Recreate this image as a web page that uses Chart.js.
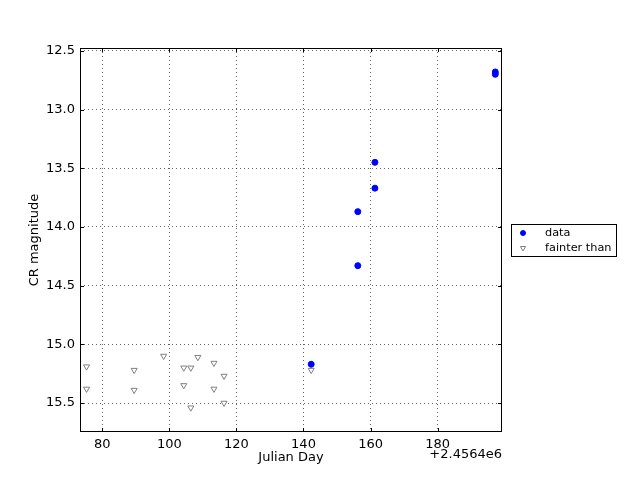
<!DOCTYPE html>
<html>
<head>
<meta charset="utf-8">
<script src="https://cdn.jsdelivr.net/npm/chart.js@4.4.0/dist/chart.umd.min.js"></script>
<style>
  html, body { margin: 0; padding: 0; background: #fff; }
</style>
</head>
<body>
<canvas id="myChart" width="640" height="480"></canvas>
<script>
// detections (Julian Day - 2456400, CR magnitude)
const dataDays = [142.3, 156.2, 156.2, 161.3, 161.3, 197.2, 197.2];
const dataMags = [15.17, 14.33, 13.87, 13.67, 13.45, 12.70, 12.68];

// upper limits ("fainter than")
const limitDays = [75.3, 75.3, 89.5, 89.5, 98.3, 104.3, 104.3, 106.4, 106.4, 108.5, 113.3, 113.3, 116.3, 116.3, 142.3];
const limitMags = [15.19, 15.38, 15.22, 15.39, 15.10, 15.20, 15.35, 15.20, 15.54, 15.11, 15.16, 15.38, 15.27, 15.50, 15.22];

const xTicks = [80, 100, 120, 140, 160, 180];
const yTicks = [12.5, 13.0, 13.5, 14.0, 14.5, 15.0, 15.5];

const toPoints = (xs, ys) => xs.map((x, i) => ({ x: x, y: ys[i] }));

const FONT = "'DejaVu Sans', sans-serif";

// matplotlib-like frame, inward ticks, offset text and legend box
const mplExtras = {
  id: "mplExtras",
  afterDraw(chart) {
    const { ctx, chartArea: a, scales } = chart;
    ctx.save();
    ctx.strokeStyle = "#000";
    ctx.lineWidth = 1;
    ctx.setLineDash([]);
    ctx.beginPath();
    xTicks.forEach((v) => {
      const px = Math.round(scales.x.getPixelForValue(v)) + 0.5;
      ctx.moveTo(px, a.bottom); ctx.lineTo(px, a.bottom - 4);
      ctx.moveTo(px, a.top); ctx.lineTo(px, a.top + 4);
    });
    yTicks.forEach((v) => {
      const py = Math.round(scales.y.getPixelForValue(v)) + 0.5;
      ctx.moveTo(a.left, py); ctx.lineTo(a.left + 4, py);
      ctx.moveTo(a.right, py); ctx.lineTo(a.right - 4, py);
    });
    ctx.stroke();
    ctx.strokeRect(a.left + 0.5, a.top + 0.5, a.right - a.left - 1, a.bottom - a.top - 1);

    // offset text
    ctx.fillStyle = "#000";
    ctx.font = "13px " + FONT;
    ctx.textAlign = "right";
    ctx.textBaseline = "middle";
    ctx.fillText("+2.4564e6", a.right, 455);

    // legend
    const lx = 511, ly = 224, lw = 105, lh = 32;
    ctx.fillStyle = "#fff";
    ctx.fillRect(lx, ly, lw, lh);
    ctx.strokeRect(lx + 0.5, ly + 0.5, lw, lh);
    ctx.font = "11.3px " + FONT;
    ctx.textAlign = "left";
    chart.data.datasets.forEach((ds, i) => {
      const y = ly + 9 + i * 15;
      ctx.fillStyle = ds.backgroundColor;
      ctx.strokeStyle = ds.borderColor;
      ctx.lineWidth = 1;
      Chart.helpers.drawPoint(ctx, {
        pointStyle: ds.pointStyle,
        radius: ds.pointRadius - 0.5,
        rotation: ds.pointRotation || 0,
        borderWidth: 1
      }, lx + 12, y);
      ctx.fillStyle = "#000";
      ctx.fillText(ds.label, lx + 34, y);
    });
    ctx.restore();
  }
};

const ctx = document.getElementById("myChart").getContext("2d");

const chart = new Chart(ctx, {
  type: "scatter",
  data: {
    datasets: [
      {
        label: "data",
        data: toPoints(dataDays, dataMags),
        pointStyle: "circle",
        pointRadius: 3,
        backgroundColor: "#0000ff",
        borderColor: "#0000ff",
        borderWidth: 1
      },
      {
        label: "fainter than",
        data: toPoints(limitDays, limitMags),
        pointStyle: "triangle",
        pointRotation: 180,
        pointRadius: 3.5,
        backgroundColor: "#ffffff",
        borderColor: "#808080",
        borderWidth: 1
      }
    ]
  },
  options: {
    responsive: false,
    animation: false,
    layout: { padding: { left: 0, top: 48, right: 138, bottom: 0 } },
    plugins: {
      legend: { display: false },
      tooltip: { enabled: false }
    },
    scales: {
      x: {
        type: "linear",
        min: 73.35,
        max: 199.2,
        afterFit: (scale) => { scale.height = 48; },
        afterBuildTicks: (scale) => { scale.ticks = xTicks.map((v) => ({ value: v })); },
        grid: {
          color: "rgba(0,0,0,0.6)",
          drawTicks: false
        },
        border: { display: false, dash: [1, 3] },
        ticks: {
          color: "#000",
          padding: 5,
          maxRotation: 0,
          font: { family: FONT, size: 13 },
          callback: (v) => String(v)
        },
        title: {
          display: true,
          text: "Julian Day",
          color: "#000",
          font: { family: FONT, size: 13 },
          padding: { top: 0, bottom: 15 }
        }
      },
      y: {
        type: "linear",
        reverse: true,
        min: 12.476,
        max: 15.747,
        afterFit: (scale) => { scale.width = 80; },
        afterBuildTicks: (scale) => { scale.ticks = yTicks.map((v) => ({ value: v })); },
        grid: {
          color: "rgba(0,0,0,0.6)",
          drawTicks: false
        },
        border: { display: false, dash: [1, 3] },
        ticks: {
          color: "#000",
          padding: 5,
          font: { family: FONT, size: 13 },
          callback: (v) => Number(v).toFixed(1)
        },
        title: {
          display: true,
          text: "CR magnitude",
          color: "#000",
          font: { family: FONT, size: 13 },
          padding: { top: 27, bottom: 0 }
        }
      }
    }
  },
  plugins: [mplExtras]
});
</script>
</body>
</html>
